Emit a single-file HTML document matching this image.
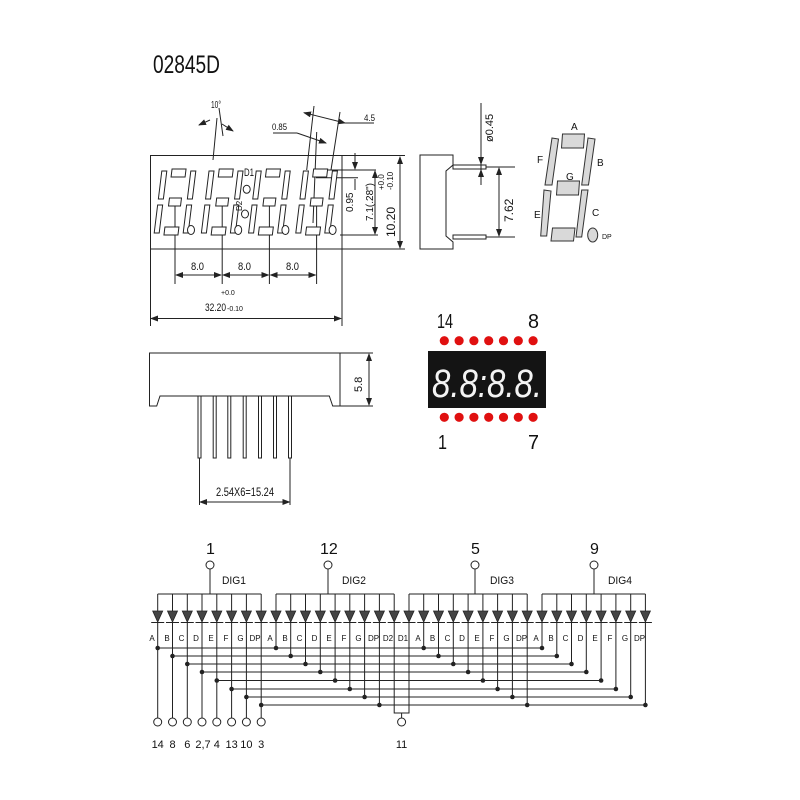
<!DOCTYPE html>
<html><head><meta charset="utf-8"><style>
html,body{margin:0;padding:0;background:#fff;}
svg{display:block;}
text{font-family:"Liberation Sans",sans-serif;fill:#111;}
</style></head><body>
<svg width="800" height="800" viewBox="0 0 800 800" xmlns="http://www.w3.org/2000/svg">
<defs>
<marker id="ar" markerWidth="8" markerHeight="6" refX="7" refY="3" orient="auto-start-reverse" markerUnits="userSpaceOnUse"><path d="M0,0 L8,3 L0,6 z" fill="#222"/></marker>
<g id="dig">
 <g transform="skewX(-7)" fill="#fff" stroke="#222" stroke-width="1">
  <rect x="-7" y="-33" width="14" height="8"/>
  <rect x="-6" y="-4" width="12" height="8"/>
  <rect x="-7" y="25" width="14" height="8"/>
  <rect x="-17" y="-31" width="5" height="28"/>
  <rect x="-17" y="3" width="5" height="28"/>
  <rect x="12" y="-31" width="5" height="28"/>
  <rect x="12" y="3" width="5" height="28"/>
 </g>
 <ellipse cx="16" cy="28" rx="3.5" ry="4.5" fill="#fff" stroke="#222"/>
</g>
<g id="dio"><path d="M-5,611 L5,611 L0,622 z" fill="#444" stroke="#222" stroke-width="0.8"/><line x1="-6.5" y1="622.5" x2="6.5" y2="622.5" stroke="#222"/></g>
</defs>

<text x="153" y="73" font-size="25" textLength="67" lengthAdjust="spacingAndGlyphs">02845D</text>

<!-- top view -->
<g stroke="#222" stroke-width="1" fill="none">
 <rect x="150.5" y="155.5" width="191.5" height="93.5"/>
 <line x1="150.5" y1="249" x2="150.5" y2="326"/>
 <line x1="342" y1="249" x2="342" y2="326"/>
 <line x1="151" y1="318.5" x2="341" y2="318.5" marker-start="url(#ar)" marker-end="url(#ar)"/>
 <line x1="175" y1="202" x2="175" y2="284"/>
 <line x1="222.2" y1="202" x2="222.2" y2="284"/>
 <line x1="269.4" y1="202" x2="269.4" y2="284"/>
 <line x1="316.6" y1="202" x2="316.6" y2="284"/>
 <line x1="176" y1="275" x2="221" y2="275" marker-start="url(#ar)" marker-end="url(#ar)"/>
 <line x1="223" y1="275" x2="268.5" y2="275" marker-start="url(#ar)" marker-end="url(#ar)"/>
 <line x1="270.5" y1="275" x2="315.5" y2="275" marker-start="url(#ar)" marker-end="url(#ar)"/>
 <!-- 10 deg -->
 <line x1="213" y1="160" x2="217" y2="118"/>
 <line x1="210" y1="120" x2="199" y2="125" marker-end="url(#ar)"/>
 <line x1="222" y1="124" x2="233" y2="131" marker-end="url(#ar)"/>
 <line x1="219" y1="108" x2="223" y2="136"/>
 <!-- digit 4 extension lines -->
 <line x1="306.7" y1="170" x2="314" y2="106"/>
 <line x1="331" y1="170" x2="340" y2="112"/>
 <line x1="313" y1="223" x2="316.7" y2="132"/>
 <line x1="304" y1="112.7" x2="345" y2="123" marker-start="url(#ar)" marker-end="url(#ar)"/>
 <line x1="345" y1="123" x2="374" y2="123"/>
 <line x1="273" y1="133" x2="297" y2="133"/>
 <line x1="297" y1="133" x2="326" y2="143" marker-end="url(#ar)"/>
 <!-- right dims -->
 <line x1="316" y1="170" x2="376" y2="170"/>
 <line x1="316" y1="177.7" x2="358" y2="177.7"/>
 <line x1="355" y1="153" x2="355" y2="169" marker-end="url(#ar)"/>
 <line x1="355" y1="179" x2="355" y2="190"/>
 <line x1="375" y1="171" x2="375" y2="234" marker-start="url(#ar)" marker-end="url(#ar)"/>
 <line x1="340" y1="235" x2="378" y2="235"/>
 <line x1="342" y1="155.5" x2="405" y2="155.5"/>
 <line x1="342" y1="249" x2="405" y2="249"/>
 <line x1="400" y1="157" x2="400" y2="248" marker-start="url(#ar)" marker-end="url(#ar)"/>
 <ellipse cx="246.7" cy="189.3" rx="3.5" ry="4"/>
 <ellipse cx="245" cy="214" rx="3.5" ry="4"/>
</g>
<use href="#dig" x="175" y="202"/>
<use href="#dig" x="222.2" y="202"/>
<use href="#dig" x="269.4" y="202"/>
<use href="#dig" x="316.6" y="202"/>
<g font-size="11">
 <text x="191" y="270" textLength="13" lengthAdjust="spacingAndGlyphs">8.0</text>
 <text x="238" y="270" textLength="13" lengthAdjust="spacingAndGlyphs">8.0</text>
 <text x="286" y="270" textLength="13" lengthAdjust="spacingAndGlyphs">8.0</text>
 <text x="221" y="295" font-size="7">+0.0</text>
 <text x="205" y="311" textLength="21" lengthAdjust="spacingAndGlyphs">32.20</text>
 <text x="227" y="311" font-size="7">-0.10</text>
 <text x="211" y="108" font-size="10" textLength="10" lengthAdjust="spacingAndGlyphs">10°</text>
 <text x="272" y="130" font-size="9" textLength="15" lengthAdjust="spacingAndGlyphs">0.85</text>
 <text x="364" y="121" font-size="9" textLength="11" lengthAdjust="spacingAndGlyphs">4.5</text>
 <text x="244" y="176" font-size="11" textLength="10" lengthAdjust="spacingAndGlyphs">D1</text>
 <text transform="translate(242,211) rotate(-90)" font-size="8">D2</text>
 <text transform="translate(353,212) rotate(-90)" font-size="10">0.95</text>
 <text transform="translate(373,221) rotate(-90)" font-size="10">7.1(.28")</text>
 <text transform="translate(384,190) rotate(-90)" font-size="8">+0.0</text>
 <text transform="translate(393,190) rotate(-90)" font-size="8">-0.10</text>
 <text transform="translate(395,237) rotate(-90)" font-size="12">10.20</text>
</g>

<!-- side view right -->
<g stroke="#222" stroke-width="1" fill="none">
 <path d="M420,155 L453,155 L453,165 L446,171 L446,236 L453,242 L453,249 L420,249 z"/>
 <rect x="453" y="165" width="33" height="4"/>
 <rect x="453" y="235" width="33" height="4"/>
 <line x1="486" y1="167" x2="515" y2="167"/>
 <line x1="486" y1="237" x2="515" y2="237"/>
 <line x1="499" y1="168" x2="499" y2="236" marker-start="url(#ar)" marker-end="url(#ar)"/>
 <line x1="481" y1="103" x2="481" y2="185"/>
 <line x1="481" y1="155" x2="481" y2="164" marker-end="url(#ar)"/>
 <line x1="481" y1="180" x2="481" y2="170" marker-end="url(#ar)"/>
</g>
<text transform="translate(513,222) rotate(-90)" font-size="12">7.62</text>
<text transform="translate(493,142) rotate(-90)" font-size="11">ø0.45</text>

<!-- segment key -->
<g fill="#d9d9d9" stroke="#333" stroke-width="1">
 <path d="M562.5,134 L584.5,134 L583.5,148 L561.5,148 z"/>
 <path d="M552,138 L558.5,139 L552,185 L545,185 z"/>
 <path d="M588,138 L595,139 L588.5,185 L581.7,185 z"/>
 <path d="M557.5,181 L579.5,181 L578.5,195 L556.5,195 z"/>
 <path d="M544,190 L551,191 L546.7,236 L540.7,236 z"/>
 <path d="M581.7,190 L588,190 L581.7,237 L576,237 z"/>
 <path d="M552.5,228 L575,228 L573.5,241 L551,241 z"/>
 <ellipse cx="592.7" cy="235" rx="5" ry="7"/>
</g>
<g font-size="10">
 <text x="571" y="130">A</text>
 <text x="537" y="163">F</text>
 <text x="597" y="166">B</text>
 <text x="566" y="180">G</text>
 <text x="534" y="218">E</text>
 <text x="592" y="216">C</text>
 <text x="602" y="239" font-size="7">DP</text>
</g>

<!-- front bottom view -->
<g stroke="#222" stroke-width="1" fill="none">
 <path d="M149.5,353 L340,353 L340,406 L332.7,406 L329.3,396 L160,396 L156.7,406 L149.5,406 z"/>
 <line x1="340" y1="353" x2="373" y2="353"/>
 <line x1="340" y1="406" x2="373" y2="406"/>
 <line x1="369" y1="354" x2="369" y2="405" marker-start="url(#ar)" marker-end="url(#ar)"/>
 <rect x="198" y="396" width="3" height="62"/>
 <rect x="213.2" y="396" width="3" height="62"/>
 <rect x="227.8" y="396" width="3" height="62"/>
 <rect x="243.2" y="396" width="3" height="62"/>
 <rect x="258.5" y="396" width="3" height="62"/>
 <rect x="273.5" y="396" width="3" height="62"/>
 <rect x="288.5" y="396" width="3" height="62"/>
 <line x1="199.5" y1="458" x2="199.5" y2="505"/>
 <line x1="290" y1="458" x2="290" y2="505"/>
 <line x1="200" y1="502" x2="289.5" y2="502" marker-start="url(#ar)" marker-end="url(#ar)"/>
</g>
<text transform="translate(362,392) rotate(-90)" font-size="11">5.8</text>
<text x="216" y="496" font-size="12" textLength="58" lengthAdjust="spacingAndGlyphs">2.54X6=15.24</text>

<!-- LED photo -->
<rect x="428" y="351" width="118" height="57" fill="#141414"/>
<text x="432" y="397" font-size="40" fill="#f4f4f4" style="fill:#f4f4f4" font-style="italic" textLength="110" lengthAdjust="spacingAndGlyphs">8.8:8.8.</text>
<g fill="#e01010">
 <circle cx="444.3" cy="340.7" r="4.6"/><circle cx="459.1" cy="340.7" r="4.6"/><circle cx="473.9" cy="340.7" r="4.6"/><circle cx="488.7" cy="340.7" r="4.6"/><circle cx="503.5" cy="340.7" r="4.6"/><circle cx="518.3" cy="340.7" r="4.6"/><circle cx="533.1" cy="340.7" r="4.6"/>
 <circle cx="444.3" cy="417.3" r="4.6"/><circle cx="459.1" cy="417.3" r="4.6"/><circle cx="473.9" cy="417.3" r="4.6"/><circle cx="488.7" cy="417.3" r="4.6"/><circle cx="503.5" cy="417.3" r="4.6"/><circle cx="518.3" cy="417.3" r="4.6"/><circle cx="533.1" cy="417.3" r="4.6"/>
</g>
<g font-size="20">
 <text x="437" y="328" textLength="16" lengthAdjust="spacingAndGlyphs">14</text>
 <text x="528" y="328" textLength="11" lengthAdjust="spacingAndGlyphs">8</text>
 <text x="438" y="449" textLength="9" lengthAdjust="spacingAndGlyphs">1</text>
 <text x="528" y="449" textLength="11" lengthAdjust="spacingAndGlyphs">7</text>
</g>

<!-- schematic -->
<g stroke="#222" stroke-width="1" fill="#fff">
 <line x1="210" y1="569" x2="210" y2="594"/><circle cx="210" cy="565" r="4"/>
 <line x1="328" y1="569" x2="328" y2="594"/><circle cx="328" cy="565" r="4"/>
 <line x1="475" y1="569" x2="475" y2="594"/><circle cx="475" cy="565" r="4"/>
 <line x1="594" y1="569" x2="594" y2="594"/><circle cx="594" cy="565" r="4"/>
 <line x1="157.7" y1="594" x2="261.2" y2="594"/>
 <line x1="276" y1="594" x2="394.2" y2="594"/>
 <line x1="409" y1="594" x2="527.2" y2="594"/>
 <line x1="542" y1="594" x2="645.4" y2="594"/>
</g>
<g font-size="16">
 <text x="206" y="554">1</text><text x="320" y="554">12</text><text x="471" y="554">5</text><text x="590" y="554">9</text>
</g>
<g font-size="11">
 <text x="222" y="584" textLength="24" lengthAdjust="spacingAndGlyphs">DIG1</text>
 <text x="342" y="584" textLength="24" lengthAdjust="spacingAndGlyphs">DIG2</text>
 <text x="490" y="584" textLength="24" lengthAdjust="spacingAndGlyphs">DIG3</text>
 <text x="608" y="584" textLength="24" lengthAdjust="spacingAndGlyphs">DIG4</text>
</g>
<g stroke="#222" stroke-width="1" fill="none">
<path d="M157.7,594V611M172.5,594V611M187.3,594V611M202,594V611M216.8,594V611M231.6,594V611M246.4,594V611M261.2,594V611M276,594V611M290.7,594V611M305.5,594V611M320.3,594V611M335.1,594V611M349.8,594V611M364.6,594V611M379.4,594V611M394.2,594V611M409,594V611M423.7,594V611M438.5,594V611M453.3,594V611M468.1,594V611M482.9,594V611M497.6,594V611M512.4,594V611M527.2,594V611M542,594V611M556.8,594V611M571.5,594V611M586.3,594V611M601.1,594V611M615.9,594V611M630.7,594V611M645.4,594V611"/>
<path d="M157.7,622V718M172.5,622V718M187.3,622V718M202,622V718M216.8,622V718M231.6,622V718M246.4,622V718M261.2,622V718"/>
<path d="M276,622V648M290.7,622V656M305.5,622V664M320.3,622V672M335.1,622V680.5M349.8,622V689M364.6,622V697M379.4,622V705"/>
<path d="M423.7,622V648M438.5,622V656M453.3,622V664M468.1,622V672M482.9,622V680.5M497.6,622V689M512.4,622V697M527.2,622V705"/>
<path d="M542,622V648M556.8,622V656M571.5,622V664M586.3,622V672M601.1,622V680.5M615.9,622V689M630.7,622V697M645.4,622V705"/>
<path d="M394.2,622V713H409V622M401.6,713V718"/>
<path d="M157.7,648H542M172.5,656H556.8M187.3,664H571.5M202,672H586.3M216.8,680.5H601.1M231.6,689H615.9M246.4,697H630.7M261.2,705H645.4"/>
</g>
<g fill="#222">
<circle cx="157.7" cy="648" r="2.3"/><circle cx="276" cy="648" r="2.3"/><circle cx="423.7" cy="648" r="2.3"/><circle cx="542" cy="648" r="2.3"/>
<circle cx="172.5" cy="656" r="2.3"/><circle cx="290.7" cy="656" r="2.3"/><circle cx="438.5" cy="656" r="2.3"/><circle cx="556.8" cy="656" r="2.3"/>
<circle cx="187.3" cy="664" r="2.3"/><circle cx="305.5" cy="664" r="2.3"/><circle cx="453.3" cy="664" r="2.3"/><circle cx="571.5" cy="664" r="2.3"/>
<circle cx="202" cy="672" r="2.3"/><circle cx="320.3" cy="672" r="2.3"/><circle cx="468.1" cy="672" r="2.3"/><circle cx="586.3" cy="672" r="2.3"/>
<circle cx="216.8" cy="680.5" r="2.3"/><circle cx="335.1" cy="680.5" r="2.3"/><circle cx="482.9" cy="680.5" r="2.3"/><circle cx="601.1" cy="680.5" r="2.3"/>
<circle cx="231.6" cy="689" r="2.3"/><circle cx="349.8" cy="689" r="2.3"/><circle cx="497.6" cy="689" r="2.3"/><circle cx="615.9" cy="689" r="2.3"/>
<circle cx="246.4" cy="697" r="2.3"/><circle cx="364.6" cy="697" r="2.3"/><circle cx="512.4" cy="697" r="2.3"/><circle cx="630.7" cy="697" r="2.3"/>
<circle cx="261.2" cy="705" r="2.3"/><circle cx="379.4" cy="705" r="2.3"/><circle cx="527.2" cy="705" r="2.3"/><circle cx="645.4" cy="705" r="2.3"/>
</g>
<g>
<use href="#dio" x="157.7"/><use href="#dio" x="172.5"/><use href="#dio" x="187.3"/><use href="#dio" x="202"/><use href="#dio" x="216.8"/><use href="#dio" x="231.6"/><use href="#dio" x="246.4"/><use href="#dio" x="261.2"/>
<use href="#dio" x="276"/><use href="#dio" x="290.7"/><use href="#dio" x="305.5"/><use href="#dio" x="320.3"/><use href="#dio" x="335.1"/><use href="#dio" x="349.8"/><use href="#dio" x="364.6"/><use href="#dio" x="379.4"/><use href="#dio" x="394.2"/><use href="#dio" x="409"/>
<use href="#dio" x="423.7"/><use href="#dio" x="438.5"/><use href="#dio" x="453.3"/><use href="#dio" x="468.1"/><use href="#dio" x="482.9"/><use href="#dio" x="497.6"/><use href="#dio" x="512.4"/><use href="#dio" x="527.2"/>
<use href="#dio" x="542"/><use href="#dio" x="556.8"/><use href="#dio" x="571.5"/><use href="#dio" x="586.3"/><use href="#dio" x="601.1"/><use href="#dio" x="615.9"/><use href="#dio" x="630.7"/><use href="#dio" x="645.4"/>
</g>
<g font-size="8" text-anchor="middle">
<text x="152" y="641">A</text><text x="167" y="641">B</text><text x="181.5" y="641">C</text><text x="196" y="641">D</text><text x="211" y="641">E</text><text x="226" y="641">F</text><text x="240.5" y="641">G</text><text x="255" y="641">DP</text>
<text x="270" y="641">A</text><text x="285" y="641">B</text><text x="299.5" y="641">C</text><text x="314.5" y="641">D</text><text x="329" y="641">E</text><text x="344" y="641">F</text><text x="358.5" y="641">G</text><text x="373.5" y="641">DP</text><text x="388" y="641">D2</text><text x="403" y="641">D1</text>
<text x="418" y="641">A</text><text x="432.5" y="641">B</text><text x="447.5" y="641">C</text><text x="462" y="641">D</text><text x="477" y="641">E</text><text x="492" y="641">F</text><text x="506.5" y="641">G</text><text x="521.5" y="641">DP</text>
<text x="536" y="641">A</text><text x="551" y="641">B</text><text x="565.5" y="641">C</text><text x="580.5" y="641">D</text><text x="595" y="641">E</text><text x="610" y="641">F</text><text x="625" y="641">G</text><text x="639.5" y="641">DP</text>
</g>
<g fill="#fff" stroke="#222" stroke-width="1">
<circle cx="157.7" cy="722" r="4"/><circle cx="172.5" cy="722" r="4"/><circle cx="187.3" cy="722" r="4"/><circle cx="202" cy="722" r="4"/><circle cx="216.8" cy="722" r="4"/><circle cx="231.6" cy="722" r="4"/><circle cx="246.4" cy="722" r="4"/><circle cx="261.2" cy="722" r="4"/><circle cx="401.6" cy="722" r="4"/>
</g>
<g font-size="11" text-anchor="middle">
<text x="157.7" y="748">14</text><text x="172.5" y="748">8</text><text x="187.3" y="748">6</text><text x="203" y="748">2,7</text><text x="216.8" y="748">4</text><text x="231.6" y="748">13</text><text x="246.4" y="748">10</text><text x="261.2" y="748">3</text><text x="401.6" y="748">11</text>
</g>
</svg>
</body></html>
